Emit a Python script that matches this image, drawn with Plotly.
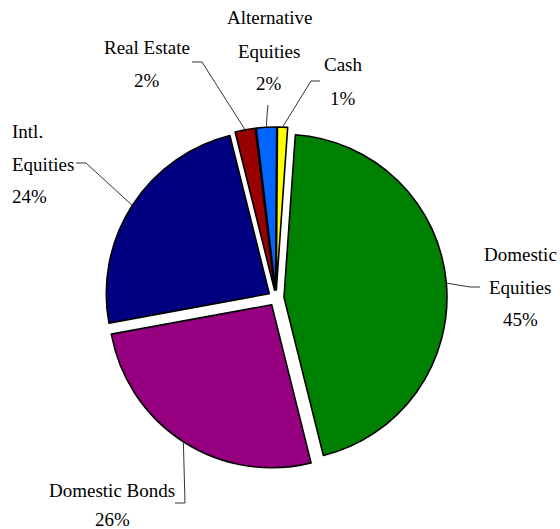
import math
import plotly.graph_objects as go

# ---- data ----
categories = ["Domestic Equities", "Domestic Bonds", "Intl. Equities",
              "Real Estate", "Alternative Equities", "Cash"]
values = [45, 26, 24, 2, 2, 1]
wrapped_labels = ["Domestic<br>Equities", "Domestic Bonds", "Intl.<br>Equities",
                  "Real Estate", "Alternative<br>Equities", "Cash"]
colors = ["#008000", "#960080", "#000080", "#990000", "#0066FF", "#FFFF00"]

# ---- layout / style (pixels in a 560x529 canvas) ----
W, H = 560, 529
CX, CY, R = 276, 298, 163           # pie centre and radius
PULL_PX = 8
ROTATION = 4
FONT = "Liberation Serif"
FSIZE = 19
# label anchor (x, y of first line), alignment, line gap, leader elbow points (label side)
label_pos = [
    (520, 255, "center", 32, [(470, 287), (480, 287)]),
    (112, 490, "center", 29, [(185, 503), (175, 503)]),
    (10, 132, "left", 32, [(86, 163), (76, 163)]),
    (147, 48, "center", 32, [(202, 62), (192, 62)]),
    (269, 18, "center", 33, [(267, 115), (268, 105)]),
    (343, 65, "center", 33, [(311, 81), (320, 81)]),
]

pull = PULL_PX / R
half = R * (1 + pull)

def px(x):
    return x / W

def py(y):
    return 1 - y / H

fig = go.Figure(go.Pie(
    labels=categories,
    values=values,
    sort=False,
    direction="clockwise",
    rotation=ROTATION,
    pull=[pull] * len(values),
    marker=dict(colors=colors, line=dict(color="black", width=1.6)),
    textinfo="none",
    hoverinfo="label+percent",
    showlegend=False,
    domain=dict(x=[px(CX - half), px(CX + half)],
                y=[py(CY + half), py(CY - half)]),
))

annotations = []
shapes = []
total = sum(values)
start = ROTATION
for i, (v, lab) in enumerate(zip(values, wrapped_labels)):
    sweep = 360 * v / total
    mid = math.radians(start + sweep / 2)
    start += sweep
    # slice edge point along the mid-angle (including pull)
    ex = CX + (R + PULL_PX) * math.sin(mid)
    ey = CY - (R + PULL_PX) * math.cos(mid)
    lx, ly, align, gap, elbow = label_pos[i]
    lines = lab.split("<br>") + [f"{v}%"]
    for k, t in enumerate(lines):
        annotations.append(dict(
            x=px(lx), y=py(ly + k * gap), xref="paper", yref="paper",
            text=t, showarrow=False, xanchor=align, yanchor="middle",
            font=dict(family=FONT, size=FSIZE, color="black"),
        ))
    pts = [(ex, ey)] + elbow
    path = "M " + " L ".join(f"{px(a):.5f},{py(b):.5f}" for a, b in pts)
    shapes.append(dict(type="path", path=path, xref="paper", yref="paper",
                       line=dict(color="#333333", width=1)))

fig.update_layout(
    width=W, height=H,
    margin=dict(l=0, r=0, t=0, b=0),
    paper_bgcolor="white", plot_bgcolor="white",
    font=dict(family=FONT),
    annotations=annotations, shapes=shapes,
)

fig.write_html("out.html")
